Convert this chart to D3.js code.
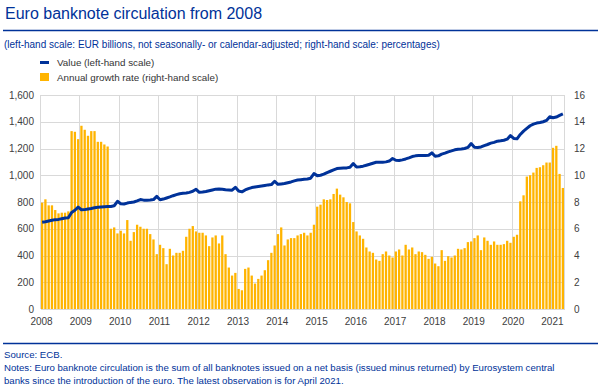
<!DOCTYPE html>
<html lang="en">
<head>
<meta charset="utf-8">
<title>Euro banknote circulation from 2008</title>
<script src="https://d3js.org/d3.v7.min.js"></script>
<style>
  body { margin: 0; padding: 0; background: #fff; }
  text { font-family: Arial, "Liberation Sans", sans-serif; }
  .grid line { stroke: #d9d9d9; stroke-width: 1px; shape-rendering: crispEdges; }
  .tick-label { font-size: 10px; fill: #404040; }
  .blue-text { fill: #003299; }
</style>
</head>
<body>
<script>
// ---- data ----
var startYear = 2008;
var yearLabels = ["2008","2009","2010","2011","2012","2013","2014","2015","2016","2017","2018","2019","2020","2021"];
var leftTicks = [0, 200, 400, 600, 800, 1000, 1200, 1400, 1600];
var rightTicks = [0, 2, 4, 6, 8, 10, 12, 14, 16];

// annual growth rate, %, Jan 2008 - Apr 2021
var growthRate = [
  7.95, 8.2, 7.75, 7.75, 7.4, 7.15, 7.2, 7.2, 7.3, 13.3, 13.25, 12.7,
  13.7, 13.4, 12.95, 13.3, 13.3, 12.5, 12.5, 12.3, 12.15, 6.0, 6.1, 5.65,
  5.85, 5.65, 6.65, 5.1, 5.75, 6.3, 6.15, 6.0, 6.0, 5.6, 5.2, 4.1,
  4.8, 4.55, 3.35, 4.5, 4.0, 4.2, 4.2, 4.35, 5.4, 6.0, 6.2, 5.8,
  5.7, 5.7, 5.5, 4.7, 5.35, 5.5, 4.9, 5.5, 4.1, 3.1, 2.5, 2.7,
  1.5, 1.4, 3.0, 3.1, 2.5, 1.9, 2.25, 2.5, 2.9, 3.65, 4.2, 4.75,
  5.6, 6.1, 4.75, 5.2, 5.3, 5.3, 5.5, 5.6, 5.7, 5.5, 5.7, 6.3,
  7.65, 7.8, 8.2, 8.15, 8.2, 8.6, 9.0, 8.55, 8.35, 8.0, 7.9, 6.5,
  5.8, 5.5, 5.25, 4.6, 4.3, 4.2, 3.7, 3.6, 4.1, 4.3, 4.0, 3.85,
  4.3, 4.45, 4.0, 4.8, 4.45, 4.6, 4.1, 4.3, 4.25, 4.05, 3.75, 3.9,
  3.4, 3.2, 4.4, 3.6, 3.95, 3.85, 4.0, 4.5, 4.45, 4.55, 5.0, 5.05,
  5.3, 5.5, 4.4, 5.35, 5.1, 4.8, 5.05, 4.8, 4.8, 4.85, 5.1, 4.95,
  5.4, 5.55, 8.05, 8.5, 9.9, 10.0, 10.2, 10.55, 10.6, 10.75, 10.95, 10.95,
  12.05, 12.2, 10.1, 9.05
];

// value in circulation, EUR billions
var circulation = [
  648, 652, 658, 663, 668, 670, 675, 680, 682, 722, 738, 762,
  742, 743, 748, 752, 757, 760, 763, 765, 766, 767, 772, 805,
  787, 785, 792, 797, 800, 808, 818, 814, 813, 815, 818, 842,
  817, 822, 830, 838, 847, 855, 862, 865, 867, 872, 880, 895,
  872, 874, 878, 884, 890, 896, 898, 896, 892, 890, 888, 910,
  882, 876, 890, 900, 908, 912, 916, 920, 924, 928, 930, 955,
  932, 935, 938, 944, 950, 958, 964, 967, 970, 972, 978, 1012,
  997, 1000, 1008, 1020, 1030, 1040, 1050, 1053, 1055, 1055, 1060, 1087,
  1062, 1064, 1068, 1075, 1082, 1090, 1097, 1098, 1098, 1100, 1106, 1125,
  1112, 1110, 1115, 1122, 1130, 1140, 1145, 1147, 1147, 1148, 1150, 1167,
  1142, 1145, 1158, 1165, 1175, 1182, 1190, 1195, 1197, 1200, 1208, 1237,
  1210, 1208, 1212, 1222, 1230, 1240, 1246, 1255, 1258, 1262, 1270, 1297,
  1275, 1272, 1305, 1330, 1350, 1370, 1382, 1390, 1394, 1400, 1410, 1437,
  1430, 1435, 1447, 1458
];

var width = 601, height = 389;
var plotLeft = 40.5, plotRight = 564.5, plotTop = 95, plotBottom = 309;

var svg = d3.select("body").append("svg")
    .attr("width", width)
    .attr("height", height);

// month index -> band
var months = d3.range(growthRate.length);
var x = d3.scaleBand()
    .domain(months)
    .range([plotLeft, plotRight])
    .paddingInner(0.3)
    .paddingOuter(0.15);

var yLeft = d3.scaleLinear().domain([0, 1600]).range([plotBottom, plotTop]);
var yRight = d3.scaleLinear().domain([0, 16]).range([plotBottom, plotTop]);

// year start position (start of january band)
function yearX(i) {
    return plotLeft + x.step() * i * 12;
}

// title
svg.append("text")
    .attr("class", "blue-text")
    .attr("x", 5).attr("y", 19)
    .style("font-size", "16px")
    .text("Euro banknote circulation from 2008");

svg.append("line")
    .attr("x1", 3).attr("x2", 598)
    .attr("y1", 30.5).attr("y2", 30.5)
    .attr("stroke", "#003299").attr("stroke-width", 1.5);

svg.append("text")
    .attr("class", "blue-text")
    .attr("x", 4).attr("y", 47.5)
    .style("font-size", "10px")
    .text("(left-hand scale: EUR billions, not seasonally- or calendar-adjusted; right-hand scale: percentages)");

// legend
var legend = [
    {label: "Value (left-hand scale)", color: "#003299", h: 3},
    {label: "Annual growth rate (right-hand scale)", color: "#ffb400", h: 8}
];
var lg = svg.append("g").selectAll("g")
    .data(legend).enter().append("g")
    .attr("transform", function(d, i) { return "translate(40," + (62.5 + i * 14.5) + ")"; });
lg.append("rect")
    .attr("x", 0).attr("width", 9)
    .attr("y", function(d) { return -d.h / 2; })
    .attr("height", function(d) { return d.h; })
    .attr("fill", function(d) { return d.color; });
lg.append("text")
    .attr("x", 17).attr("y", 3.5)
    .style("font-size", "9.8px")
    .attr("fill", "#333")
    .text(function(d) { return d.label; });

// grid
var grid = svg.append("g").attr("class", "grid");
grid.selectAll(".h").data(leftTicks).enter().append("line")
    .attr("x1", plotLeft).attr("x2", plotRight)
    .attr("y1", function(d) { return Math.round(yLeft(d)) + 0.5; })
    .attr("y2", function(d) { return Math.round(yLeft(d)) + 0.5; });
grid.selectAll(".v").data(yearLabels).enter().append("line")
    .attr("x1", function(d, i) { return yearX(i); })
    .attr("x2", function(d, i) { return yearX(i); })
    .attr("y1", plotTop).attr("y2", plotBottom);
grid.append("line")
    .attr("x1", plotRight).attr("x2", plotRight)
    .attr("y1", plotTop).attr("y2", plotBottom);

// bars
svg.append("g").selectAll("rect")
    .data(growthRate).enter().append("rect")
    .attr("x", function(d, i) { return x(i); })
    .attr("width", x.bandwidth())
    .attr("y", function(d) { return yRight(d); })
    .attr("height", function(d) { return plotBottom - yRight(d); })
    .attr("fill", "#ffb400");

// line
var line = d3.line()
    .x(function(d, i) { return x(i) + x.bandwidth() / 2; })
    .y(function(d) { return yLeft(d); });
svg.append("path")
    .datum(circulation)
    .attr("d", line)
    .attr("fill", "none")
    .attr("stroke", "#003299")
    .attr("stroke-width", 3)
    .attr("stroke-linejoin", "round");

// axes labels
svg.append("g").selectAll("text")
    .data(leftTicks).enter().append("text")
    .attr("class", "tick-label")
    .attr("x", 34)
    .attr("y", function(d) { return yLeft(d) + 3.5; })
    .attr("text-anchor", "end")
    .text(function(d) { return d3.format(",")(d); });

svg.append("g").selectAll("text")
    .data(rightTicks).enter().append("text")
    .attr("class", "tick-label")
    .attr("x", 574)
    .attr("y", function(d) { return yRight(d) + 3.5; })
    .text(function(d) { return d; });

svg.append("g").selectAll("text")
    .data(yearLabels).enter().append("text")
    .attr("class", "tick-label")
    .attr("x", function(d, i) { return yearX(i) + 1; })
    .attr("y", 325)
    .attr("text-anchor", "middle")
    .text(function(d) { return d; });

// footer
svg.append("line")
    .attr("x1", 3).attr("x2", 598)
    .attr("y1", 343.5).attr("y2", 343.5)
    .attr("stroke", "#003299").attr("stroke-width", 1.5);

var notes = [
    "Source: ECB.",
    "Notes: Euro banknote circulation is the sum of all banknotes issued on a net basis (issued minus returned) by Eurosystem central",
    "banks since the introduction of the euro. The latest observation is for April 2021."
];
svg.append("g").selectAll("text")
    .data(notes).enter().append("text")
    .attr("class", "blue-text")
    .attr("x", 4)
    .attr("y", function(d, i) { return 358 + i * 13; })
    .style("font-size", "9.65px")
    .text(function(d) { return d; });
</script>
</body>
</html>
